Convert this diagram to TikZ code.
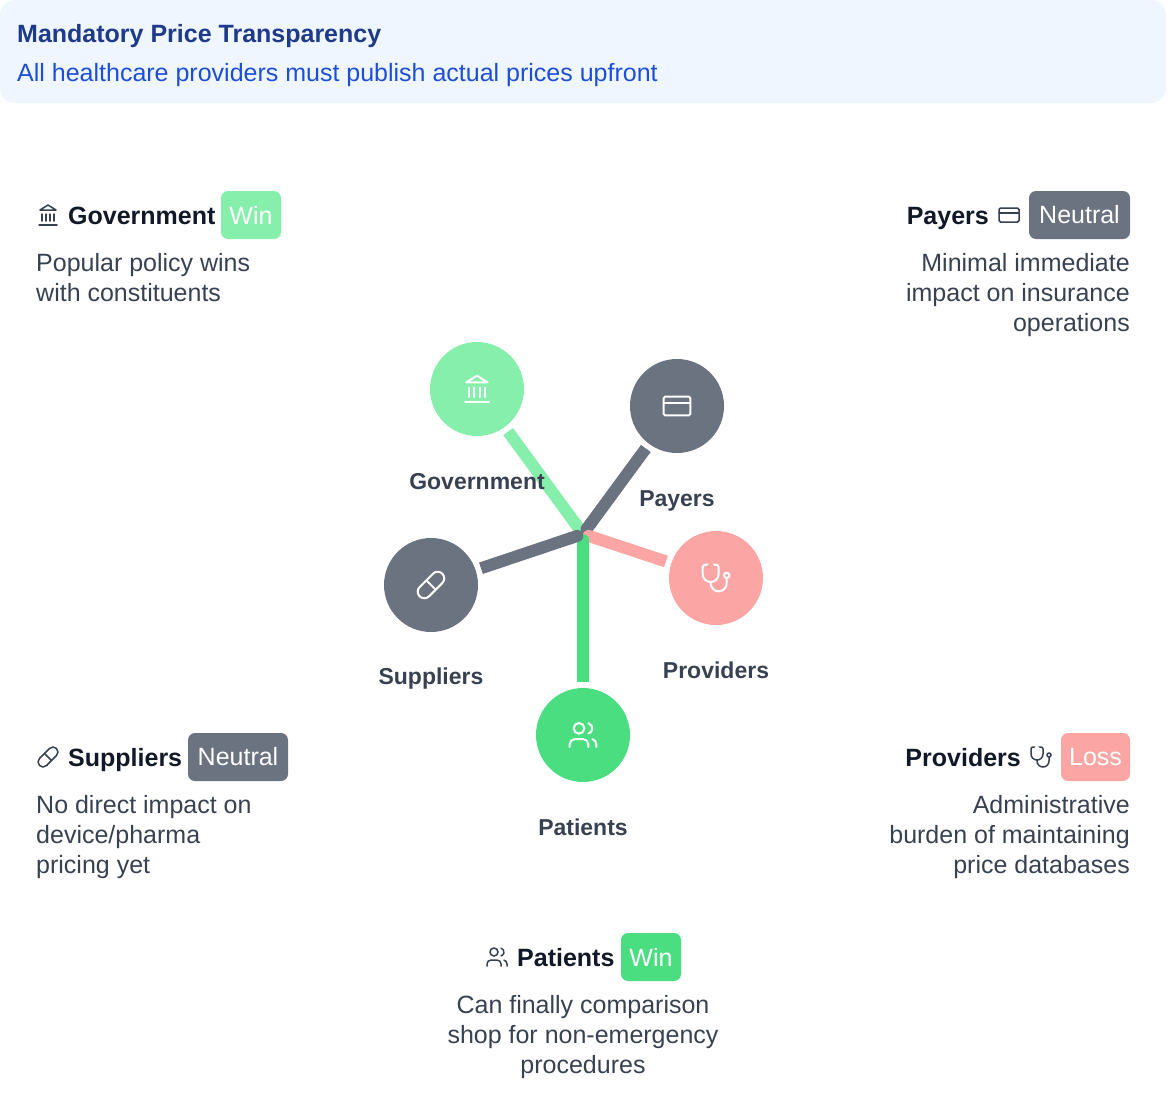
\documentclass[tikz,border=0pt]{standalone}
\usepackage{fontspec}
\usepackage{xcolor}
\setmainfont{Liberation Sans}
\usetikzlibrary{arrows.meta}
\definecolor{headerfill}{RGB}{239,246,255}
\definecolor{headertitle}{RGB}{30,58,138}
\definecolor{headertext}{RGB}{29,78,216}
\definecolor{wingreen}{RGB}{134,239,172}
\definecolor{topgreen}{RGB}{74,222,128}
\definecolor{neutralgrey}{RGB}{107,114,128}
\definecolor{losspink}{RGB}{252,165,165}
\definecolor{titleink}{RGB}{17,24,39}
\definecolor{bodyink}{RGB}{55,65,81}
\tikzset{
  pics/landmark/.style={code={
    \begin{scope}[shift={(-12,-12)}]
      \draw (3,22) -- (21,22);
      \draw (6,18) -- (6,11);
      \draw (10,18) -- (10,11);
      \draw (14,18) -- (14,11);
      \draw (18,18) -- (18,11);
      \draw[line join=round] (12,2) -- (20,7) -- (4,7) -- cycle;
    \end{scope}}},
  pics/card/.style={code={
    \begin{scope}[shift={(-12,-12)}]
      \draw[rounded corners=1.5pt] (2,5) rectangle (22,19);
      \draw (2,10) -- (22,10);
    \end{scope}}},
  pics/pill/.style={code={
    \begin{scope}[shift={(-12,-12)}]
      \draw (10.5,20.5) -- (20.5,10.5) arc[start angle=45,end angle=-135,radius=4.95]
        -- (3.5,13.5) arc[start angle=225,end angle=45,radius=4.95] -- cycle;
      \draw (8.5,8.5) -- (15.5,15.5);
    \end{scope}}},
  pics/scope/.style={code={
    \begin{scope}[shift={(-12,-12)}]
      \draw (4.8,2.3) -- (5,2) -- (4,2) arc[start angle=-90,end angle=-180,radius=2] -- (2,9)
        arc[start angle=180,end angle=0,radius=6] -- (14,4)
        arc[start angle=0,end angle=-90,radius=2] -- (11,2) -- (11.3,2.3);
      \draw (8,15) -- (8,16) arc[start angle=180,end angle=0,radius=6] -- (20,12);
      \draw (20,10) circle[radius=2];
    \end{scope}}},
  pics/users/.style={code={
    \begin{scope}[shift={(-12,-12)}]
      \draw (16,21) -- (16,19) arc[start angle=0,end angle=-90,radius=4] -- (6,15)
        arc[start angle=-90,end angle=-180,radius=4] -- (2,21);
      \draw (9,7) circle[radius=4];
      \draw (22,21) -- (22,19) arc[start angle=0,end angle=-75.5,radius=4];
      \draw (16,3.13) arc[start angle=-75.5,end angle=75.5,radius=4];
    \end{scope}}}
}
\begin{document}
\begin{tikzpicture}[x=1pt,y=-1pt,line cap=round,
    headerbox/.style={rectangle,rounded corners=15pt,fill=headerfill,minimum width=1166pt,minimum height=103pt,inner sep=0pt},
    actor/.style={circle,minimum size=94pt,inner sep=0pt},
    spoke/.style={{Round Cap[]}-,line width=12pt,line cap=butt,shorten >=5.5pt},
    actorlabel/.style={anchor=base,inner sep=0pt,text=bodyink,font=\fontsize{23}{28}\selectfont\bfseries},
    cardtitle/.style={anchor=base west,inner sep=0pt,text=titleink,font=\fontsize{25}{30}\selectfont\bfseries},
    badge/.style={rectangle,rounded corners=7pt,minimum height=48pt,inner sep=0pt,text=white,font=\fontsize{25}{30}\selectfont},
    cardtext/.style={inner sep=0pt,text=bodyink,font=\fontsize{25}{30}\selectfont},
    oncircle/.style={scale=1.3333,white,line width=2pt},
    ontitle/.style={bodyink,line width=1.5pt}]
  \useasboundingbox (0,0) rectangle (1170,1098);
  \node[headerbox] (header) at (583,51.5) {};
  \node[anchor=base west,inner sep=0pt,text=headertitle,font=\fontsize{25}{30}\selectfont\bfseries] (headline) at (17,42) {Mandatory Price Transparency};
  \node[anchor=base west,inner sep=0pt,text=headertext,font=\fontsize{25}{30}\selectfont] (subline) at (17,81) {All healthcare providers must publish actual prices upfront};

  \coordinate (hub) at (583,534);
  \node[actor,fill=wingreen] (gov) at (477,389) {};
  \node[actor,fill=neutralgrey] (payers) at (677,406) {};
  \node[actor,fill=losspink] (providers) at (716,578) {};
  \node[actor,fill=topgreen] (patients) at (583,735) {};
  \node[actor,fill=neutralgrey] (suppliers) at (431,585) {};

  \draw[spoke,draw=wingreen] (hub) -- (gov);
  \draw[spoke,draw=neutralgrey] (hub) -- (payers);
  \draw[spoke,draw=losspink] (hub) -- (providers);
  \draw[spoke,draw=topgreen] (hub) -- (patients);
  \draw[spoke,draw=neutralgrey] (hub) -- (suppliers);

  \pic[oncircle] at (gov) {landmark};
  \pic[oncircle] at (payers) {card};
  \pic[oncircle] at (providers) {scope};
  \pic[oncircle] at (patients) {users};
  \pic[oncircle] at (suppliers) {pill};

  \node[actorlabel] (govlabel) at (477,489) {Government};
  \node[actorlabel] (payerslabel) at (677,506) {Payers};
  \node[actorlabel] (providerslabel) at (716,678) {Providers};
  \node[actorlabel] (patientslabel) at (583,835) {Patients};
  \node[actorlabel] (supplierslabel) at (431,684) {Suppliers};

  \pic[ontitle] at (48,215) {landmark};
  \node[cardtitle] (govtitle) at (68,224) {Government};
  \node[badge,fill=wingreen,minimum width=60pt] (govbadge) at (251,215) {Win};
  \node[cardtext,anchor=north west,align=left] (govtext) at (36,253) {Popular policy wins\\with constituents};

  \node[cardtitle,anchor=base east] (payerstitle) at (989,224) {Payers};
  \pic[ontitle] at (1009,215) {card};
  \node[badge,fill=neutralgrey,minimum width=101pt] (payersbadge) at (1079.5,215) {Neutral};
  \node[cardtext,anchor=north east,align=right] (payerstext) at (1130,253) {Minimal immediate\\impact on insurance\\operations};

  \pic[ontitle] at (48,757) {pill};
  \node[cardtitle] (supplierstitle) at (68,766) {Suppliers};
  \node[badge,fill=neutralgrey,minimum width=100pt] (suppliersbadge) at (238,757) {Neutral};
  \node[cardtext,anchor=north west,align=left] (supplierstext) at (36,795) {No direct impact on\\device/pharma\\pricing yet};

  \node[cardtitle,anchor=base east] (providerstitle) at (1021,766) {Providers};
  \pic[ontitle] at (1041,757) {scope};
  \node[badge,fill=losspink,minimum width=69pt] (providersbadge) at (1095.5,757) {Loss};
  \node[cardtext,anchor=north east,align=right] (providerstext) at (1130,795) {Administrative\\burden of maintaining\\price databases};

  \pic[ontitle] at (497,957) {users};
  \node[cardtitle] (patientstitle) at (517,966) {Patients};
  \node[badge,fill=topgreen,minimum width=60pt] (patientsbadge) at (651,957) {Win};
  \node[cardtext,anchor=north,align=center] (patientstext) at (583,995) {Can finally comparison\\shop for non-emergency\\procedures};
\end{tikzpicture}
\end{document}
